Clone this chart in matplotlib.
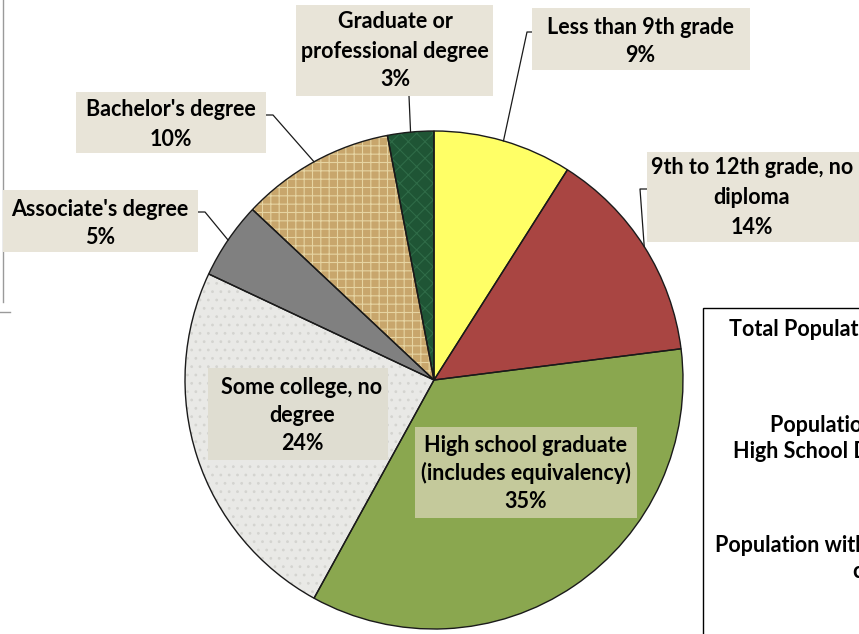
import matplotlib
matplotlib.use('Agg')
import matplotlib.pyplot as plt
from matplotlib.patches import Rectangle
import numpy as np

W, H = 859, 634

categories = ['Less than 9th grade', '9th to 12th grade, no\ndiploma',
              'High school graduate\n(includes equivalency)', 'Some college, no\ndegree',
              "Associate's degree", "Bachelor's degree", 'Graduate or\nprofessional degree']
shares = [9, 14, 35, 24, 5, 10, 3]

face = ['#ffff66', '#a94542', '#8aa74f', '#e9e9e6', '#808080', '#c8a66c', '#1f5535']
hatch = [None, None, None, '..', None, '++', 'xx']
hatch_col = [None, None, None, '#d4d4d0', None, '#e6d4a2', '#2f6b47']

# label layout in pixel coords (top origin): box, text centre x, line y's, leader elbow
layout = [
    dict(box=(532, 8, 750, 70), tx=640, ly=[27, 56], elbow=[(532, 32), (527, 32)], fc='#e8e4d8'),
    dict(box=(647, 152, 880, 242), tx=752, ly=[168, 197, 227], elbow=[(647, 189), (640, 189)], fc='#e8e4d8'),
    dict(box=(415, 427, 637, 518), tx=526, ly=[445, 473, 502], elbow=None, fc='#c4c99b'),
    dict(box=(208, 368, 388, 460), tx=302, ly=[387, 415, 443], elbow=None, fc='#dfddd1'),
    dict(box=(3, 190, 198, 252), tx=100, ly=[209, 238], elbow=[(198, 212), (205, 212)], fc='#e8e4d8'),
    dict(box=(76, 92, 266, 153), tx=171, ly=[110, 139], elbow=[(266, 115), (273, 115)], fc='#e8e4d8'),
    dict(box=(296, 5, 493, 96), tx=395, ly=[22, 51, 80], elbow=[(409, 96)], fc='#e8e4d8'),
]

side_text = [('Total Population 25 years and over', 729, 330),
             ('Population without', 770, 425),
             ('High School Diploma', 733, 452),
             ('Population with some', 715, 545),
             ('college or higher', 853, 572)]

plt.rcParams['font.family'] = ['Lato', 'DejaVu Sans']
plt.rcParams['hatch.linewidth'] = 0.8
FS = 15.5

fig = plt.figure(figsize=(W / 100, H / 100), dpi=100)
ax = fig.add_axes([0, 0, 1, 1])


def Y(y):
    return H - y


cx, cy, R = 434, Y(380), 249

wedges, _ = ax.pie(shares, colors=face, startangle=90, counterclock=False,
                   center=(cx, cy), radius=R, frame=True,
                   wedgeprops=dict(linewidth=0))
for w, h, hc in zip(wedges, hatch, hatch_col):
    if h:
        w.set_hatch(h)
        w.set_edgecolor(hc)
ax.pie(shares, colors=['none'] * len(shares), startangle=90, counterclock=False,
       center=(cx, cy), radius=R, frame=True,
       wedgeprops=dict(linewidth=1.0, edgecolor='#1a1a1a', fill=False))
ax.set_xlim(0, W)
ax.set_ylim(0, H)
ax.set_aspect('auto')
ax.axis('off')

# label boxes, text and leader lines
cum = np.cumsum([0] + shares)
for i, (name, val) in enumerate(zip(categories, shares)):
    lay = layout[i]
    x0, y0, x1, y1 = lay['box']
    ax.add_patch(Rectangle((x0, Y(y1)), x1 - x0, y1 - y0, facecolor=lay['fc'],
                           edgecolor='none', zorder=5))
    lines = name.split('\n') + [f'{val}%']
    for t, ly in zip(lines, lay['ly']):
        ax.text(lay['tx'], Y(ly), t, ha='center', va='center', fontsize=FS,
                fontweight='bold', color='black', zorder=6)
    if lay['elbow']:
        mid = (cum[i] + val / 2) / 100 * 2 * np.pi
        px, py = cx + R * np.sin(mid), cy + R * np.cos(mid)
        xs = [p[0] for p in lay['elbow']] + [px]
        ys = [Y(p[1]) for p in lay['elbow']] + [py]
        ax.plot(xs, ys, color='#1a1a1a', lw=0.9, zorder=4)

# side legend box (cut off at right edge, as in the source)
ax.add_patch(Rectangle((703, Y(700)), 300, 700 - 308, facecolor='white',
                       edgecolor='black', lw=1, zorder=3))
for t, x, y in side_text:
    ax.text(x, Y(y), t, ha='left', va='center', fontsize=FS, fontweight='bold',
            color='black', zorder=6)

# stray frame edges at left
ax.plot([3, 3], [Y(0), Y(302)], color='#9a9a9a', lw=1)
ax.plot([0, 10], [Y(312), Y(312)], color='#9a9a9a', lw=1)

fig.savefig('out.png', dpi=100)
